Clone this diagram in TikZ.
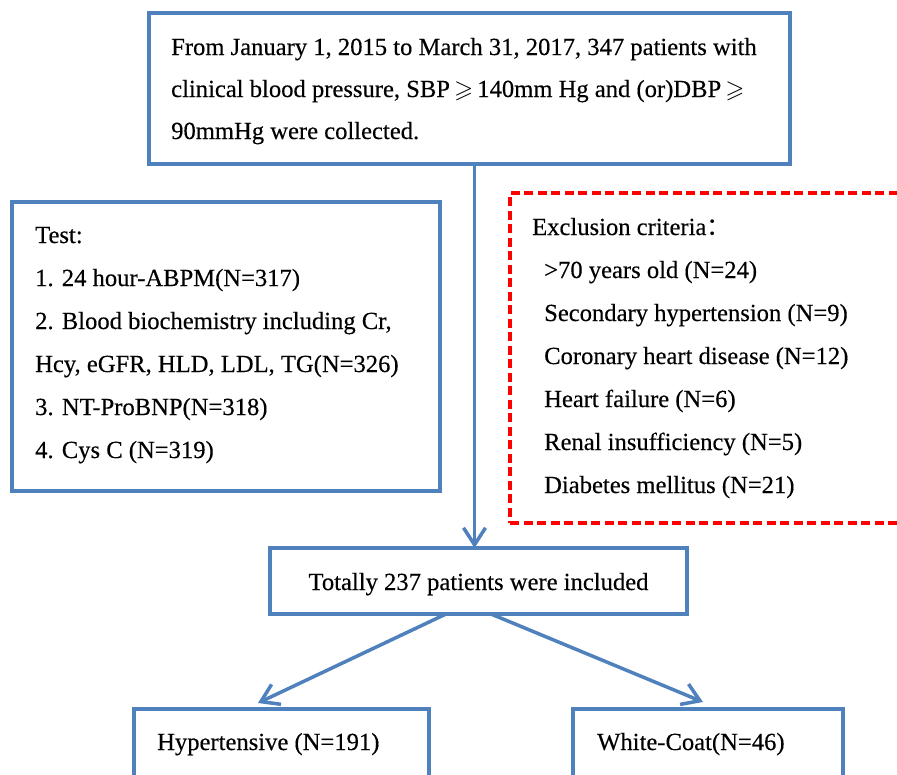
\documentclass[tikz,border=0pt]{standalone}
\usepackage{fontspec}
\usepackage{amssymb}
\setmainfont[FakeBold=0.3]{Liberation Serif}
\newfontfamily\cjk{Noto Sans CJK SC}
\usetikzlibrary{arrows.meta}
\definecolor{boxblue}{RGB}{79,129,189}
\definecolor{exred}{RGB}{255,0,0}
\begin{document}
\begin{tikzpicture}[x=1pt,y=-1pt,
  bluebox/.style={draw=boxblue, line width=3.5pt, inner sep=0pt, outer sep=0pt},
  redbox/.style={draw=exred, line width=3.5pt, dash pattern=on 9pt off 4.5pt, inner sep=0pt, outer sep=0pt},
  txt/.style={anchor=base west, inner sep=0pt, font=\fontsize{24.6}{43}\selectfont},
  ctxt/.style={anchor=base, inner sep=0pt, font=\fontsize{24.6}{43}\selectfont},
  arr/.style={draw=boxblue, line width=3.5pt, -{Straight Barb[length=17pt,width=22pt]}},
]
\clip (0,0) rectangle (897,774);
\fill[white] (0,0) rectangle (897,774);

% boxes
\node[bluebox, minimum width=641pt, minimum height=151pt] (top) at (469.5,88.5) {};
\node[bluebox, minimum width=428pt, minimum height=289pt] (test) at (226,346.5) {};
\node[redbox, minimum width=400pt, minimum height=330pt] (excl) at (710,358) {};
\node[bluebox, minimum width=417pt, minimum height=66pt] (total) at (478.5,581) {};
\node[bluebox, minimum width=295pt, minimum height=111pt] (hyper) at (281.5,764.5) {};
\node[bluebox, minimum width=270pt, minimum height=111pt] (white) at (708,764.5) {};

% top box text
\node[txt] (top1) at (171,55) {From January 1, 2015 to March 31, 2017, 347 patients with};
\node[txt] (top2) at (171,97) {clinical blood pressure, SBP\,$\geqslant$\,140mm Hg and (or)DBP\,$\geqslant$};
\node[txt] (top3) at (171,139) {90mmHg were collected.};

% test box text
\node[txt] (test0) at (35,243) {Test:};
\node[txt] (test1) at (35,286) {1. 24 hour-ABPM(N=317)};
\node[txt] (test2) at (35,329) {2. Blood biochemistry including Cr,};
\node[txt] (test3) at (35,372) {Hcy, eGFR, HLD, LDL, TG(N=326)};
\node[txt] (test4) at (35,415) {3. NT-ProBNP(N=318)};
\node[txt] (test5) at (35,458) {4. Cys C (N=319)};

% exclusion text
\node[txt] (ex0) at (532,235) {Exclusion criteria{\cjk ：}};
\node[txt] (ex1) at (544,278) {>70 years old (N=24)};
\node[txt] (ex2) at (544,321) {Secondary hypertension (N=9)};
\node[txt] (ex3) at (544,364) {Coronary heart disease (N=12)};
\node[txt] (ex4) at (544,407) {Heart failure (N=6)};
\node[txt] (ex5) at (544,450) {Renal insufficiency (N=5)};
\node[txt] (ex6) at (544,493) {Diabetes mellitus (N=21)};

% total and outcome texts
\node[ctxt] (totaltxt) at ([yshift=-9pt]total.center) {Totally 237 patients were included};
\node[txt] (hypertxt) at (157,750) {Hypertensive (N=191)};
\node[txt] (whitetxt) at (597,750) {White-Coat(N=46)};

% arrows
\draw[arr] ([xshift=5pt]top.south) -- ([xshift=-4pt]total.north);
\draw[arr] ([xshift=-32.5pt]total.south) -- ([xshift=-23.5pt,yshift=6pt]hyper.north);
\draw[arr] ([xshift=12.5pt]total.south) -- ([xshift=-5pt,yshift=7pt]white.north);
\end{tikzpicture}
\end{document}
